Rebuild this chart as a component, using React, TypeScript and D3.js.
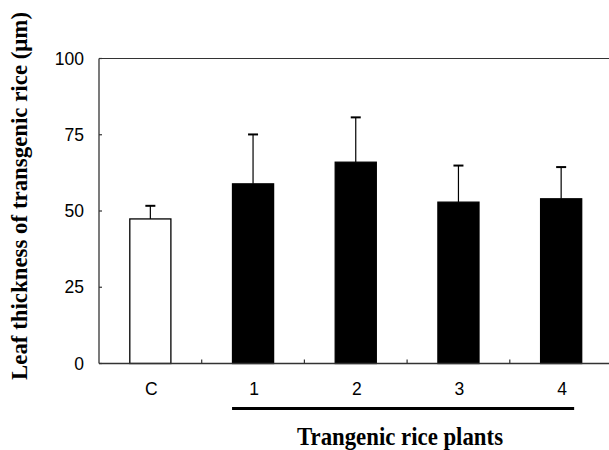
import React from "react";
import * as d3 from "d3";

const categories = ["C", "1", "2", "3", "4"];
const means = [47.4, 58.9, 66.0, 52.9, 54.0];
const errors = [4.3, 16.2, 14.7, 12.0, 10.4];
const fills = ["#ffffff", "#000000", "#000000", "#000000", "#000000"];
const yTicks = [0, 25, 50, 75, 100];
const yTitle = "Leaf thickness of transgenic rice (\u03bcm)";
const xTitle = "Trangenic rice plants";
const groupedCategories = ["1", "4"];

const W = 609;
const H = 450;
const left = 99;
const right = 612.5;
const top = 58.5;
const bottom = 363.5;

export default function App() {
  const y = d3.scaleLinear().domain([0, 100]).range([bottom, top]);
  const x = d3
    .scaleBand<string>()
    .domain(categories)
    .range([left, right])
    .paddingInner(0.6)
    .paddingOuter(0.3);
  const step = x.step();
  const bw = x.bandwidth();
  const cx = (c: string) => (x(c) as number) + bw / 2;
  const boundaries = categories.slice(1).map((c) => (x(c) as number) - step * 0.3);

  const axisColor = "#333";
  const sans = "'Liberation Sans', Arial, sans-serif";
  const serif = "'Liberation Serif', 'Times New Roman', serif";

  return (
    <svg
      width={W}
      height={H}
      style={{ position: "absolute", left: 0, top: 0, background: "#fff", overflow: "hidden" }}
    >
      <rect x={0} y={0} width={W} height={H} fill="#fff" />
      {/* frame */}
      <line x1={left} x2={right} y1={top} y2={top} stroke={axisColor} strokeWidth={1.2} />
      <line x1={left} x2={left} y1={top} y2={bottom} stroke={axisColor} strokeWidth={1.3} />
      {/* bars */}
      {categories.map((c, i) => (
        <g key={c}>
          <line
            x1={cx(c)}
            x2={cx(c)}
            y1={y(means[i])}
            y2={y(means[i] + errors[i])}
            stroke="#000"
            strokeWidth={1.2}
          />
          <line
            x1={cx(c) - 5}
            x2={cx(c) + 5}
            y1={y(means[i] + errors[i])}
            y2={y(means[i] + errors[i])}
            stroke="#000"
            strokeWidth={2}
          />
          <rect
            x={x(c)}
            y={y(means[i])}
            width={bw}
            height={bottom - y(means[i])}
            fill={fills[i]}
            stroke="#000"
            strokeWidth={1.3}
          />
        </g>
      ))}
      <line x1={left} x2={right} y1={bottom} y2={bottom} stroke={axisColor} strokeWidth={1.4} />
      {/* x boundary ticks */}
      {boundaries.map((b, i) => (
        <line key={i} x1={b} x2={b} y1={bottom} y2={bottom - 4} stroke={axisColor} strokeWidth={1.2} />
      ))}
      {/* y ticks */}
      {yTicks.map((t) => (
        <g key={t}>
          <line x1={left} x2={left + 3} y1={y(t)} y2={y(t)} stroke={axisColor} strokeWidth={1.2} />
          <text
            x={84}
            y={y(t) + 1.5}
            textAnchor="end"
            dominantBaseline="middle"
            fontFamily={sans}
            fontSize={17.5}
            fill="#000"
          >
            {t}
          </text>
        </g>
      ))}
      {/* x labels */}
      {categories.map((c) => (
        <text
          key={c}
          x={cx(c) + 1}
          y={390}
          textAnchor="middle"
          dominantBaseline="middle"
          fontFamily={sans}
          fontSize={17.5}
          fill="#000"
        >
          {c}
        </text>
      ))}
      {/* group underline */}
      <line
        x1={cx(groupedCategories[0]) - 21}
        x2={cx(groupedCategories[1]) + 13}
        y1={408.5}
        y2={408.5}
        stroke="#000"
        strokeWidth={3}
      />
      {/* x title */}
      <text
        x={297}
        y={445}
        fontFamily={serif}
        fontWeight="bold"
        fontSize={25}
        textLength={206}
        lengthAdjust="spacingAndGlyphs"
        fill="#000"
      >
        {xTitle}
      </text>
      {/* y title */}
      <text
        transform={`translate(27,380) rotate(-90)`}
        x={0}
        y={0}
        fontFamily={serif}
        fontWeight="bold"
        fontSize={22.5}
        textLength={368}
        lengthAdjust="spacingAndGlyphs"
        fill="#000"
      >
        {yTitle}
      </text>
    </svg>
  );
}
